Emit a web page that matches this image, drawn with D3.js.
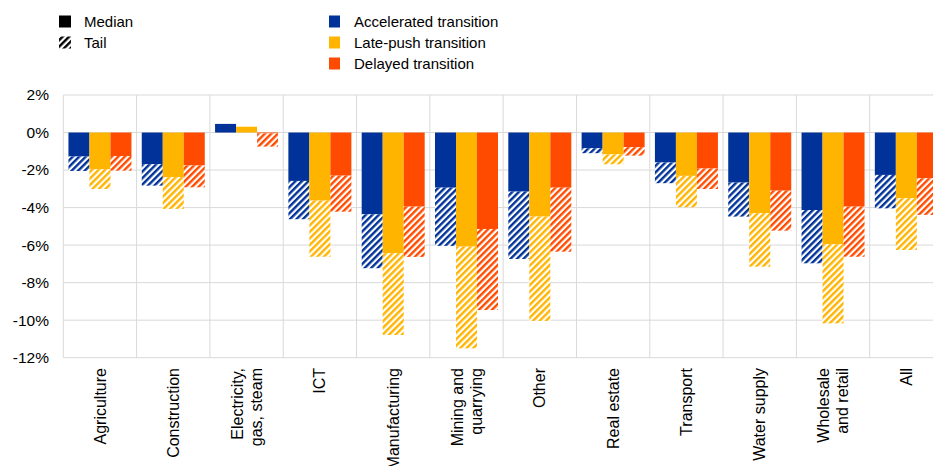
<!DOCTYPE html>
<html><head><meta charset="utf-8">
<script src="https://cdn.jsdelivr.net/npm/d3@7"></script>
<style>
html,body{margin:0;padding:0;background:#fff;overflow:hidden}
text{font-family:"Liberation Sans",Arial,sans-serif;fill:#000}
</style></head>
<body><svg id="c" width="933" height="466"></svg>
<script>
const categories = [["Agriculture"],["Construction"],["Electricity,","gas, steam"],["ICT"],["Manufacturing"],["Mining and","quarrying"],["Other"],["Real estate"],["Transport"],["Water supply"],["Wholesale","and retail"],["All"]];
const series = ["Accelerated transition","Late-push transition","Delayed transition"];
const colors = ["#003299","#FFB400","#FF4B00"];
// median values (%)
const medAccel = [-1.28,-1.69,0.46,-2.58,-4.36,-2.94,-3.15,-0.84,-1.60,-2.67,-4.13,-2.26];
const medLate  = [-1.96,-2.38,0.31,-3.63,-6.43,-6.08,-4.48,-1.16,-2.31,-4.30,-5.95,-3.50];
const medDelay = [-1.25,-1.76,-0.05,-2.30,-3.95,-5.14,-2.94,-0.78,-1.92,-3.10,-3.95,-2.44];
// tail values (%)
const tailAccel = [-2.05,-2.83,0.46,-4.62,-7.23,-6.04,-6.74,-1.10,-2.70,-4.48,-6.97,-4.04];
const tailLate  = [-3.01,-4.07,0.31,-6.62,-10.79,-11.50,-10.04,-1.69,-3.98,-7.15,-10.17,-6.26];
const tailDelay = [-2.03,-2.92,-0.75,-4.22,-6.63,-9.46,-6.35,-1.23,-3.01,-5.23,-6.62,-4.39];
const yTicks = [2,0,-2,-4,-6,-8,-10,-12];

(function(){
const medians = [medAccel, medLate, medDelay];
const tails = [tailAccel, tailLate, tailDelay];

const svg = d3.select("#c");
const defs = svg.append("defs");
function hatch(id, color){
  const s = 4.6;
  const p = defs.append("pattern").attr("id", id).attr("patternUnits","userSpaceOnUse")
    .attr("width", s).attr("height", s).attr("patternTransform","rotate(45)");
  p.append("rect").attr("width",s).attr("height",s).attr("fill","#fff");
  p.append("rect").attr("x",0).attr("y",0).attr("width",2.4).attr("height",s).attr("fill",color);
}
colors.forEach((c,i)=>hatch("h"+i,c));
hatch("hk","#000");

const pL = 63.3, pR = 943, pT = 95, pB = 357.7;
const x0 = d3.scaleBand().domain(d3.range(categories.length)).range([pL,pR]).paddingInner(0).paddingOuter(0);
const bw = x0.bandwidth();
const gap = 10.3;
const x1 = d3.scaleBand().domain(d3.range(series.length)).range([gap/2, bw-gap/2]).padding(0);
const y = d3.scaleLinear().domain([-12,2]).range([pB,pT]);

const grid = svg.append("g");
grid.selectAll("line.h").data(yTicks).join("line")
  .attr("x1",pL).attr("x2",pR).attr("y1",d=>y(d)).attr("y2",d=>y(d))
  .attr("stroke","#d9d9d9").attr("stroke-width",1);
grid.selectAll("line.v").data(d3.range(categories.length+1)).join("line")
  .attr("x1",d=>d<categories.length? x0(d): pR).attr("x2",d=>d<categories.length? x0(d): pR)
  .attr("y1",pT).attr("y2",pB).attr("stroke","#d9d9d9").attr("stroke-width",1);

svg.append("g").selectAll("text").data(yTicks).join("text")
  .attr("x",49).attr("y",d=>y(d)).attr("dy","0.35em").attr("text-anchor","end")
  .attr("font-size",15.5).text(d=>d+"%");

const bars = svg.append("g");
series.forEach((s,si)=>{
  categories.forEach((c,ci)=>{
    const m = medians[si][ci], t = tails[si][ci];
    const xx = x0(ci)+x1(si), w = x1.bandwidth();
    bars.append("rect").attr("x",xx).attr("width",w)
      .attr("y",y(Math.max(0,m))).attr("height",Math.abs(y(m)-y(0)))
      .attr("fill",colors[si]);
    if (t !== m){
      bars.append("rect").attr("x",xx).attr("width",w)
        .attr("y",y(Math.max(m,t))).attr("height",Math.abs(y(t)-y(m)))
        .attr("fill","url(#h"+si+")");
    }
  });
});

const xl = svg.append("g");
categories.forEach((lines,ci)=>{
  const cx = x0(ci)+bw/2;
  const n = lines.length, lh = 19;
  lines.forEach((ln,li)=>{
    const off = (li-(n-1)/2)*lh;
    xl.append("text").attr("transform",`translate(${cx+off},368) rotate(-90)`)
      .attr("text-anchor","end").attr("dy","0.35em").attr("font-size",16).text(ln);
  });
});

const lg = svg.append("g");
lg.append("rect").attr("x",59).attr("y",15.5).attr("width",12).attr("height",12).attr("fill","#000");
lg.append("text").attr("x",84).attr("y",21.5).attr("dy","0.35em").attr("font-size",15).text("Median");
lg.append("rect").attr("x",59).attr("y",36.5).attr("width",12).attr("height",12).attr("fill","url(#hk)");
lg.append("text").attr("x",84).attr("y",42.5).attr("dy","0.35em").attr("font-size",15).text("Tail");
series.forEach((s,i)=>{
  lg.append("rect").attr("x",329).attr("y",15.5+i*21).attr("width",11).attr("height",12).attr("fill",colors[i]);
  lg.append("text").attr("x",354).attr("y",21.5+i*21).attr("dy","0.35em").attr("font-size",15).text(s);
});
})();
</script></body></html>
